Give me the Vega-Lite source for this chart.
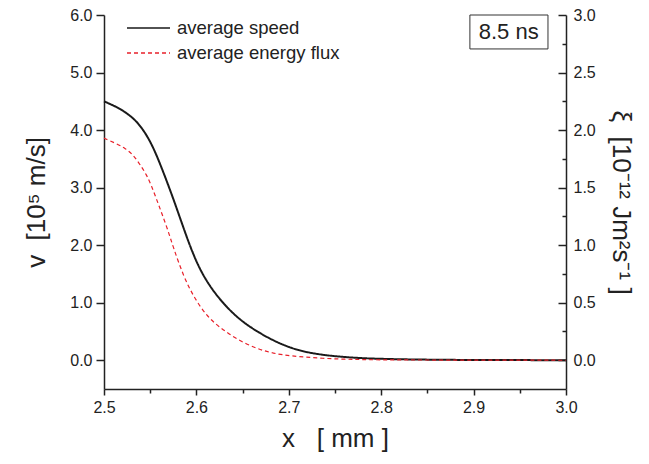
{
  "$schema": "https://vega.github.io/schema/vega-lite/v6.json",
  "width": 462,
  "height": 374,
  "autosize": {"type": "none"},
  "padding": {"left": 104, "top": 15, "right": 83, "bottom": 75},
  "background": "white",
  "config": {
    "view": {"stroke": null},
    "axis": {
      "grid": false,
      "domainColor": "#222222",
      "domainWidth": 1.5,
      "tickColor": "#222222",
      "tickWidth": 1.5,
      "labelFont": "Liberation Sans",
      "labelFontSize": 16,
      "labelColor": "#222222",
      "titleFont": "Liberation Sans",
      "titleFontSize": 26,
      "titleFontWeight": "normal",
      "titleColor": "#222222"
    }
  },
  "datasets": {
    "curves": [
      {"x": 2.500, "value": 4.50, "series": "average speed"},
      {"x": 2.517, "value": 4.38, "series": "average speed"},
      {"x": 2.532, "value": 4.21, "series": "average speed"},
      {"x": 2.5425, "value": 4.01, "series": "average speed"},
      {"x": 2.553, "value": 3.72, "series": "average speed"},
      {"x": 2.564, "value": 3.28, "series": "average speed"},
      {"x": 2.575, "value": 2.81, "series": "average speed"},
      {"x": 2.586, "value": 2.30, "series": "average speed"},
      {"x": 2.5966, "value": 1.83, "series": "average speed"},
      {"x": 2.6075, "value": 1.46, "series": "average speed"},
      {"x": 2.622, "value": 1.115, "series": "average speed"},
      {"x": 2.640, "value": 0.80, "series": "average speed"},
      {"x": 2.658, "value": 0.57, "series": "average speed"},
      {"x": 2.683, "value": 0.34, "series": "average speed"},
      {"x": 2.701, "value": 0.22, "series": "average speed"},
      {"x": 2.719, "value": 0.135, "series": "average speed"},
      {"x": 2.745, "value": 0.075, "series": "average speed"},
      {"x": 2.773, "value": 0.04, "series": "average speed"},
      {"x": 2.800, "value": 0.022, "series": "average speed"},
      {"x": 2.850, "value": 0.009, "series": "average speed"},
      {"x": 2.900, "value": 0.004, "series": "average speed"},
      {"x": 2.950, "value": 0.002, "series": "average speed"},
      {"x": 3.000, "value": 0.001, "series": "average speed"},
      {"x": 2.500, "value": 1.93, "series": "average energy flux"},
      {"x": 2.512, "value": 1.887, "series": "average energy flux"},
      {"x": 2.523, "value": 1.844, "series": "average energy flux"},
      {"x": 2.532, "value": 1.78, "series": "average energy flux"},
      {"x": 2.539, "value": 1.70, "series": "average energy flux"},
      {"x": 2.546, "value": 1.613, "series": "average energy flux"},
      {"x": 2.5516, "value": 1.511, "series": "average energy flux"},
      {"x": 2.557, "value": 1.396, "series": "average energy flux"},
      {"x": 2.5624, "value": 1.28, "series": "average energy flux"},
      {"x": 2.5696, "value": 1.12, "series": "average energy flux"},
      {"x": 2.575, "value": 0.98, "series": "average energy flux"},
      {"x": 2.586, "value": 0.731, "series": "average energy flux"},
      {"x": 2.5966, "value": 0.557, "series": "average energy flux"},
      {"x": 2.611, "value": 0.384, "series": "average energy flux"},
      {"x": 2.6255, "value": 0.283, "series": "average energy flux"},
      {"x": 2.6436, "value": 0.182, "series": "average energy flux"},
      {"x": 2.665, "value": 0.10, "series": "average energy flux"},
      {"x": 2.683, "value": 0.06, "series": "average energy flux"},
      {"x": 2.701, "value": 0.037, "series": "average energy flux"},
      {"x": 2.737, "value": 0.015, "series": "average energy flux"},
      {"x": 2.773, "value": 0.006, "series": "average energy flux"},
      {"x": 2.800, "value": 0.003, "series": "average energy flux"},
      {"x": 2.900, "value": 0.0005, "series": "average energy flux"},
      {"x": 3.000, "value": 0.0, "series": "average energy flux"}
    ],
    "annotation": [
      {"x": 2.896, "x2": 2.9805, "value": 6.0, "value2": 5.41, "xm": 2.938, "ym": 5.71, "label": "8.5 ns"}
    ]
  },
  "layer": [
    {
      "layer": [
        {
          "data": {"name": "curves"},
          "transform": [{"filter": "datum.series === 'average speed'"}],
          "mark": {"type": "line", "strokeWidth": 2, "interpolate": "basis"},
          "encoding": {
            "x": {
              "field": "x", "type": "quantitative",
              "scale": {"domain": [2.5, 3.0], "nice": false, "zero": false},
              "axis": {
                "title": "x\u00a0\u00a0\u00a0[\u00a0mm\u00a0]",
                "values": [2.5, 2.55, 2.6, 2.65, 2.7, 2.75, 2.8, 2.85, 2.9, 2.95, 3.0],
                "labelExpr": "abs(datum.value*10 - round(datum.value*10)) < 0.001 ? format(datum.value, '.1f') : ''",
                "tickSize": {"condition": {"test": "abs(datum.value*10 - round(datum.value*10)) < 0.001", "value": 6}, "value": 4},
                "labelPadding": 4,
                "titlePadding": 10,
                "labelFlush": false
              }
            },
            "y": {
              "field": "value", "type": "quantitative",
              "scale": {"domain": [-0.5, 6], "nice": false, "zero": false},
              "axis": {
                "title": "v\u00a0\u00a0[10⁵\u00a0m/s]",
                "orient": "left",
                "values": [0, 0.5, 1, 1.5, 2, 2.5, 3, 3.5, 4, 4.5, 5, 5.5, 6],
                "labelExpr": "datum.value % 1 === 0 ? format(datum.value, '.1f') : ''",
                "tickSize": {"condition": {"test": "datum.value % 1 === 0", "value": 8}, "value": 4},
                "labelPadding": 4,
                "titlePadding": 20
              }
            },
            "color": {
              "field": "series", "type": "nominal",
              "scale": {"domain": ["average speed", "average energy flux"], "range": ["#1a1a1a", "#e8202a"]},
              "legend": {
                "title": null,
                "orient": "none",
                "legendX": 22,
                "legendY": 3,
                "symbolType": "stroke",
                "symbolSize": 1849,
                "symbolStrokeWidth": 1.6,
                "clipHeight": 20,
                "rowPadding": 5,
                "labelOffset": 6,
                "labelLimit": 400,
                "labelFont": "Liberation Sans",
                "labelFontSize": 18.5,
                "labelColor": "#222222",
                "padding": 0
              }
            },
            "strokeDash": {
              "field": "series", "type": "nominal",
              "scale": {"domain": ["average speed", "average energy flux"], "range": [[1, 0], [4, 3]]},
              "legend": {
                "title": null,
                "orient": "none",
                "legendX": 22,
                "legendY": 3,
                "symbolType": "stroke",
                "symbolSize": 1849,
                "symbolStrokeWidth": 1.6,
                "clipHeight": 20,
                "rowPadding": 5,
                "labelOffset": 6,
                "labelLimit": 400,
                "labelFont": "Liberation Sans",
                "labelFontSize": 18.5,
                "labelColor": "#222222",
                "padding": 0
              }
            }
          }
        },
        {
          "data": {"name": "annotation"},
          "mark": {"type": "rect", "fill": null, "fillOpacity": 0, "stroke": "#333333", "strokeWidth": 1},
          "encoding": {
            "x": {"field": "x", "type": "quantitative"},
            "x2": {"field": "x2"},
            "y": {"field": "value", "type": "quantitative"},
            "y2": {"field": "value2"}
          }
        },
        {
          "data": {"name": "annotation"},
          "mark": {"type": "text", "font": "Liberation Sans", "fontSize": 22, "color": "#222222", "align": "center", "baseline": "middle"},
          "encoding": {
            "x": {"field": "xm", "type": "quantitative"},
            "y": {"field": "ym", "type": "quantitative"},
            "text": {"field": "label"}
          }
        }
      ]
    },
    {
      "data": {"name": "curves"},
      "transform": [{"filter": "datum.series === 'average energy flux'"}],
      "mark": {"type": "line", "strokeWidth": 1.2, "interpolate": "basis"},
      "encoding": {
        "x": {"field": "x", "type": "quantitative"},
        "y": {
          "field": "value", "type": "quantitative",
          "scale": {"domain": [-0.25, 3], "nice": false, "zero": false},
          "axis": {
            "title": "ξ\u00a0\u00a0[10⁻¹²\u00a0Jm²s⁻¹\u00a0]",
            "orient": "right",
            "values": [0, 0.25, 0.5, 0.75, 1, 1.25, 1.5, 1.75, 2, 2.25, 2.5, 2.75, 3],
            "labelExpr": "(datum.value * 2) % 1 === 0 ? format(datum.value, '.1f') : ''",
            "tickSize": {"condition": {"test": "(datum.value * 2) % 1 === 0", "value": -8}, "value": -4},
            "labelPadding": 15,
            "titlePadding": 12
          }
        },
        "color": {"field": "series", "type": "nominal"},
        "strokeDash": {"field": "series", "type": "nominal"}
      }
    }
  ],
  "resolve": {"scale": {"y": "independent"}}
}
